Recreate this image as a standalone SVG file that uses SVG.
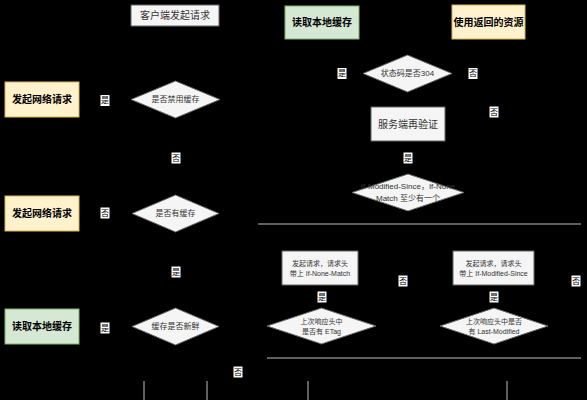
<svg xmlns="http://www.w3.org/2000/svg" width="587" height="400" viewBox="0 0 587 400">
<style>
text{font-family:"Liberation Sans","Noto Sans CJK SC",sans-serif;text-anchor:middle;dominant-baseline:central}
.g{fill:#f5f5f5;stroke:#666;stroke-width:1}
.gr{fill:#d5e8d4;stroke:#82b366;stroke-width:1}
.y{fill:#fff2cc;stroke:#d6b656;stroke-width:1}
.d{fill:#f5f5f5;stroke:#666;stroke-width:1}
.t{font-size:10px;fill:#333}
.tb{font-size:10px;font-weight:bold;fill:#000}
.ts{font-size:8px;fill:#333}
.tx{font-size:7px;fill:#333}
.lb rect{fill:#fff}
.lb text{font-size:8px;fill:#000}
.c{stroke:#808080;stroke-width:1.5;fill:none}
</style>
<rect width="587" height="400" fill="#000"/>
<g id="connectors">
<path class="c" d="M258 224H581"/>
<path class="c" d="M267 358H581"/>
<path class="c" d="M144 381V400"/>
<path class="c" d="M207 381V400"/>
<path class="c" d="M308 381V400"/>
<path class="c" d="M507 381V400"/>
</g>
<g id="start"><rect class="g" x="131" y="5" width="88" height="21"/><text class="t" x="175" y="15.5">客户端发起请求</text></g>
<g id="readCacheTop"><rect class="gr" x="285" y="6" width="74" height="33"/><text class="tb" x="322" y="22.5">读取本地缓存</text></g>
<g id="useResource"><rect class="y" x="452" y="5" width="73" height="34"/><text class="tb" x="488.5" y="22">使用返回的资源</text></g>
<g id="netReq1"><rect class="y" x="5" y="82" width="74" height="35"/><text class="tb" x="42" y="99.5">发起网络请求</text></g>
<g id="disableCache"><polygon class="d" points="175.5,81 220,99.5 175.5,118 131,99.5"/><text class="ts" x="175.5" y="99.5">是否禁用缓存</text></g>
<g id="status304"><polygon class="d" points="407.5,55 452,73.5 407.5,92 363,73.5"/><text class="ts" x="407.5" y="73.5">状态码是否304</text></g>
<g id="revalidate"><rect class="g" x="371" y="107" width="74" height="34"/><text class="t" x="408" y="124">服务端再验证</text></g>
<g id="netReq2"><rect class="y" x="5" y="196" width="74" height="35"/><text class="tb" x="42" y="213.5">发起网络请求</text></g>
<g id="hasCache"><polygon class="d" points="175.5,195 219,213.5 175.5,232 132,213.5"/><text class="ts" x="175.5" y="213.5">是否有缓存</text></g>
<g id="atLeastOne"><polygon class="d" points="408,174 464,192.5 408,211 352,192.5"/><text class="ts" x="408" y="186">If-Modified-Since，If-None</text><text class="ts" x="408" y="198">Match 至少有一个</text></g>
<g id="reqNoneMatch"><rect class="g" x="282" y="251" width="76" height="34"/><text class="tx" x="320" y="263">发起请求，请求头</text><text class="tx" x="320" y="273">带上 If-None-Match</text></g>
<g id="reqModSince"><rect class="g" x="453" y="251" width="81" height="34"/><text class="tx" x="493.5" y="263">发起请求，请求头</text><text class="tx" x="493.5" y="273">带上 If-Modified-Since</text></g>
<g id="readCache3"><rect class="gr" x="5" y="309" width="74" height="35"/><text class="tb" x="42" y="326.5">读取本地缓存</text></g>
<g id="fresh"><polygon class="d" points="175.5,308 219,326.5 175.5,345 132,326.5"/><text class="ts" x="175.5" y="326.5">缓存是否新鲜</text></g>
<g id="hasETag"><polygon class="d" points="321.5,308 376,326 321.5,344 267,326"/><text class="tx" x="321.5" y="321">上次响应头中</text><text class="tx" x="321.5" y="331">是否有 ETag</text></g>
<g id="hasLastMod"><polygon class="d" points="494,308 548,326 494,344 440,326"/><text class="tx" x="494" y="321">上次响应头中是否</text><text class="tx" x="494" y="331">有 Last-Modified</text></g>
<g id="labels">
<g class="lb"><rect x="100.5" y="95" width="9" height="11"/><text x="105" y="100.5">是</text></g>
<g class="lb"><rect x="337.5" y="68" width="9" height="11"/><text x="342" y="73.5">是</text></g>
<g class="lb"><rect x="468.5" y="68" width="9" height="11"/><text x="473" y="73.5">否</text></g>
<g class="lb"><rect x="489.5" y="106.5" width="9" height="11"/><text x="494" y="112">否</text></g>
<g class="lb"><rect x="171.5" y="152.5" width="9" height="11"/><text x="176" y="158">否</text></g>
<g class="lb"><rect x="100.5" y="207.5" width="9" height="11"/><text x="105" y="213">否</text></g>
<g class="lb"><rect x="403.5" y="152.5" width="9" height="11"/><text x="408" y="158">是</text></g>
<g class="lb"><rect x="398.5" y="275.5" width="9" height="11"/><text x="403" y="281">否</text></g>
<g class="lb"><rect x="571.5" y="275.5" width="9" height="11"/><text x="576" y="281">否</text></g>
<g class="lb"><rect x="317.5" y="291.5" width="9" height="11"/><text x="322" y="297">是</text></g>
<g class="lb"><rect x="489.5" y="291.5" width="9" height="11"/><text x="494" y="297">是</text></g>
<g class="lb"><rect x="171.5" y="266.5" width="9" height="11"/><text x="176" y="272">是</text></g>
<g class="lb"><rect x="100.5" y="322.5" width="9" height="11"/><text x="105" y="328">是</text></g>
<g class="lb"><rect x="233.5" y="366.5" width="9" height="11"/><text x="238" y="372">否</text></g>
</g>
</svg>
